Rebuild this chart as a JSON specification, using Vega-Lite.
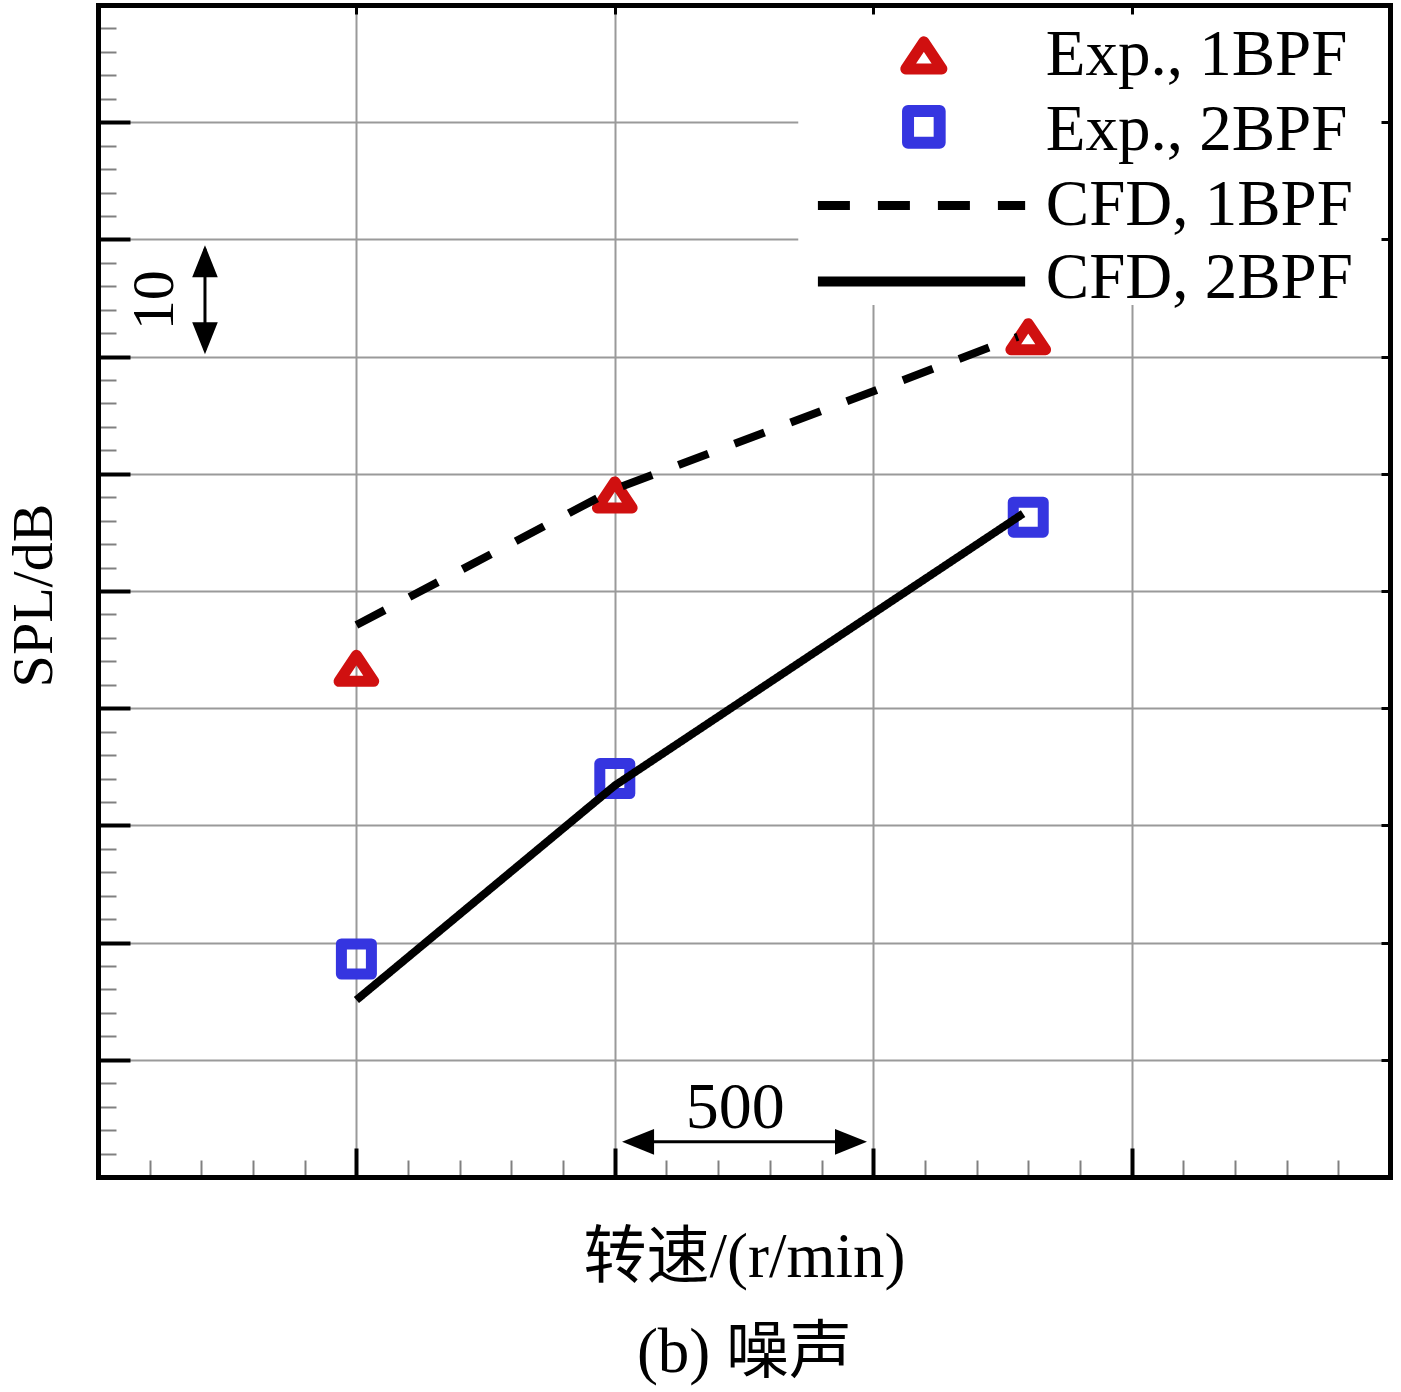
{
  "$schema": "https://vega.github.io/schema/vega-lite/v6.json",
  "width": 1292,
  "height": 1172,
  "autosize": "none",
  "padding": {"left": 98, "top": 5, "right": 11, "bottom": 215},
  "background": "white",
  "datasets": {
    "exp": [
      {"speed": 500, "spl": 43.4, "series": "Exp., 1BPF"},
      {"speed": 1000, "spl": 58.2, "series": "Exp., 1BPF"},
      {"speed": 1800, "spl": 71.7, "series": "Exp., 1BPF"},
      {"speed": 500, "spl": 18.6, "series": "Exp., 2BPF"},
      {"speed": 1000, "spl": 34.0, "series": "Exp., 2BPF"},
      {"speed": 1800, "spl": 56.3, "series": "Exp., 2BPF"}
    ],
    "cfd": [
      {"speed": 500, "spl": 47.1, "series": "CFD, 1BPF"},
      {"speed": 1000, "spl": 58.7, "series": "CFD, 1BPF"},
      {"speed": 1780, "spl": 71.7, "series": "CFD, 1BPF"},
      {"speed": 500, "spl": 15.1, "series": "CFD, 2BPF"},
      {"speed": 1000, "spl": 33.4, "series": "CFD, 2BPF"},
      {"speed": 1790, "spl": 56.6, "series": "CFD, 2BPF"}
    ],
    "note": [{}]
  },
  "resolve": {"axis": {"x": "independent", "y": "independent"}},
  "layer": [
    {
      "data": {"name": "exp"},
      "mark": {"type": "point", "filled": false, "strokeWidth": 11, "strokeJoin": "round", "opacity": 1},
      "encoding": {
        "x": {
          "field": "speed", "type": "quantitative",
          "scale": {"domain": [0, 2500], "nice": false, "zero": false},
          "axis": {
            "orient": "bottom", "values": [100, 200, 300, 400, 600, 700, 800, 900, 1100, 1200, 1300, 1400, 1600, 1700, 1800, 1900, 2100, 2200, 2300, 2400],
            "grid": false, "domain": false, "labels": false, "title": null,
            "ticks": true, "tickSize": -17, "tickWidth": 2, "tickColor": "#808080", "zindex": 0
          }
        },
        "y": {
          "field": "spl", "type": "quantitative",
          "scale": {"domain": [0, 100], "nice": false, "zero": false},
          "axis": {
            "orient": "left", "values": [2, 4, 6, 8, 12, 14, 16, 18, 22, 24, 26, 28, 32, 34, 36, 38, 42, 44, 46, 48, 52, 54, 56, 58, 62, 64, 66, 68, 72, 74, 76, 78, 82, 84, 86, 88, 92, 94, 96, 98],
            "grid": false, "domain": false, "labels": false, "title": null,
            "ticks": true, "tickSize": -18, "tickWidth": 2, "tickColor": "#808080", "zindex": 0
          }
        },
        "shape": {"field": "series", "scale": {"domain": ["Exp., 1BPF", "Exp., 2BPF"], "range": ["M0,-0.75L-1,0.75L1,0.75Z", "square"]}, "legend": null},
        "color": {"field": "series", "scale": {"domain": ["Exp., 1BPF", "Exp., 2BPF"], "range": ["#d01010", "#3535e0"]}, "legend": null},
        "size": {"field": "series", "scale": {"domain": ["Exp., 1BPF", "Exp., 2BPF"], "range": [1200, 900]}, "legend": null}
      }
    },
    {
      "data": {"name": "cfd"},
      "mark": {"type": "line", "color": "black", "strokeWidth": 8, "strokeCap": "butt"},
      "encoding": {
        "x": {
          "field": "speed", "type": "quantitative",
          "axis": {
            "orient": "bottom", "values": [500, 1000, 1500, 2000],
            "grid": true, "gridColor": "#9a9a9a", "gridWidth": 2,
            "domain": true, "domainColor": "black", "domainWidth": 5, "domainCap": "square",
            "ticks": true, "tickSize": -29, "tickWidth": 4, "tickColor": "black",
            "labels": false,
            "title": ["转速/(r/min)", "(b) 噪声"],
            "titleFont": "Liberation Serif, Noto Sans CJK SC", "titleFontSize": 63, "titleFontWeight": "normal",
            "titleColor": "black", "titlePadding": 47, "titleLineHeight": 95, "zindex": 0
          }
        },
        "y": {
          "field": "spl", "type": "quantitative",
          "axis": {
            "orient": "left", "values": [10, 20, 30, 40, 50, 60, 70, 80, 90],
            "grid": true, "gridColor": "#9a9a9a", "gridWidth": 2,
            "domain": true, "domainColor": "black", "domainWidth": 5, "domainCap": "square",
            "ticks": true, "tickSize": -32, "tickWidth": 4, "tickColor": "black",
            "labels": false,
            "title": "SPL/dB",
            "titleFont": "Liberation Serif", "titleFontSize": 58, "titleFontWeight": "normal",
            "titleColor": "black", "titlePadding": 33, "titleY": 590, "zindex": 0
          }
        },
        "strokeDash": {"field": "series", "scale": {"domain": ["CFD, 1BPF", "CFD, 2BPF"], "range": [[32, 28], [1, 0]]}, "legend": null}
      }
    },
    {
      "data": {"name": "note"},
      "mark": {"type": "rect", "fill": "white"},
      "encoding": {
        "x": {"datum": 1355, "type": "quantitative", "axis": {
          "orient": "top", "values": [500, 1000, 1500, 2000],
          "grid": false, "domain": true, "domainColor": "black", "domainWidth": 5, "domainCap": "square",
          "ticks": true, "tickSize": -9, "tickWidth": 3, "tickColor": "black",
          "labels": false, "title": null, "zindex": 1
        }},
        "x2": {"datum": 2500},
        "y": {"datum": 74.4, "type": "quantitative", "axis": {
          "orient": "right", "values": [10, 20, 30, 40, 50, 60, 70, 80, 90],
          "grid": false, "domain": true, "domainColor": "black", "domainWidth": 5, "domainCap": "square",
          "ticks": true, "tickSize": -9, "tickWidth": 3, "tickColor": "black",
          "labels": false, "title": null, "zindex": 1
        }},
        "y2": {"datum": 100}
      }
    },
    {
      "data": {"name": "note"},
      "mark": {"type": "point", "filled": false, "opacity": 1, "strokeWidth": 11, "strokeJoin": "round", "color": "#d01010", "shape": "M0,-0.75L-1,0.75L1,0.75Z", "size": 1300},
      "encoding": {
        "x": {"datum": 1598, "type": "quantitative", "axis": null},
        "y": {"datum": 95.7, "type": "quantitative", "axis": null}
      }
    },
    {
      "data": {"name": "note"},
      "mark": {"type": "point", "filled": false, "opacity": 1, "strokeWidth": 12, "strokeJoin": "round", "color": "#3535e0", "shape": "square", "size": 1000},
      "encoding": {
        "x": {"datum": 1598, "type": "quantitative", "axis": null},
        "y": {"datum": 89.6, "type": "quantitative", "axis": null}
      }
    },
    {
      "data": {"name": "note"},
      "mark": {"type": "rule", "color": "black", "strokeWidth": 9, "strokeDash": [32, 28], "strokeCap": "butt"},
      "encoding": {
        "x": {"datum": 1393, "type": "quantitative", "axis": null},
        "x2": {"datum": 1794},
        "y": {"datum": 82.9, "type": "quantitative", "axis": null}
      }
    },
    {
      "data": {"name": "note"},
      "mark": {"type": "rule", "color": "black", "strokeWidth": 10, "strokeCap": "butt"},
      "encoding": {
        "x": {"datum": 1393, "type": "quantitative", "axis": null},
        "x2": {"datum": 1794},
        "y": {"datum": 76.4, "type": "quantitative", "axis": null}
      }
    },
    {
      "data": {"name": "note"},
      "mark": {"type": "text", "text": "Exp., 1BPF", "font": "Liberation Serif", "fontSize": 65, "align": "left", "baseline": "alphabetic", "color": "black"},
      "encoding": {
        "x": {"datum": 1834, "type": "quantitative", "axis": null},
        "y": {"datum": 94.0, "type": "quantitative", "axis": null}
      }
    },
    {
      "data": {"name": "note"},
      "mark": {"type": "text", "text": "Exp., 2BPF", "font": "Liberation Serif", "fontSize": 65, "align": "left", "baseline": "alphabetic", "color": "black"},
      "encoding": {
        "x": {"datum": 1834, "type": "quantitative", "axis": null},
        "y": {"datum": 87.6, "type": "quantitative", "axis": null}
      }
    },
    {
      "data": {"name": "note"},
      "mark": {"type": "text", "text": "CFD, 1BPF", "font": "Liberation Serif", "fontSize": 65, "align": "left", "baseline": "alphabetic", "color": "black"},
      "encoding": {
        "x": {"datum": 1834, "type": "quantitative", "axis": null},
        "y": {"datum": 81.2, "type": "quantitative", "axis": null}
      }
    },
    {
      "data": {"name": "note"},
      "mark": {"type": "text", "text": "CFD, 2BPF", "font": "Liberation Serif", "fontSize": 65, "align": "left", "baseline": "alphabetic", "color": "black"},
      "encoding": {
        "x": {"datum": 1834, "type": "quantitative", "axis": null},
        "y": {"datum": 75.0, "type": "quantitative", "axis": null}
      }
    },
    {
      "data": {"name": "note"},
      "mark": {"type": "rule", "color": "black", "strokeWidth": 3},
      "encoding": {
        "x": {"datum": 207, "type": "quantitative", "axis": null},
        "y": {"datum": 70.6, "type": "quantitative", "axis": null},
        "y2": {"datum": 79.2}
      }
    },
    {
      "data": {"name": "note"},
      "mark": {"type": "point", "filled": true, "color": "black", "opacity": 1, "shape": "M0,0L-0.4,1L0.4,1Z", "size": 4096},
      "encoding": {
        "x": {"datum": 207, "type": "quantitative", "axis": null},
        "y": {"datum": 79.5, "type": "quantitative", "axis": null}
      }
    },
    {
      "data": {"name": "note"},
      "mark": {"type": "point", "filled": true, "color": "black", "opacity": 1, "shape": "M0,0L-0.4,-1L0.4,-1Z", "size": 4096},
      "encoding": {
        "x": {"datum": 207, "type": "quantitative", "axis": null},
        "y": {"datum": 70.2, "type": "quantitative", "axis": null}
      }
    },
    {
      "data": {"name": "note"},
      "mark": {"type": "text", "text": "10", "font": "Liberation Serif", "fontSize": 60, "angle": 270, "align": "center", "baseline": "middle", "color": "black"},
      "encoding": {
        "x": {"datum": 110, "type": "quantitative", "axis": null},
        "y": {"datum": 74.8, "type": "quantitative", "axis": null}
      }
    },
    {
      "data": {"name": "note"},
      "mark": {"type": "rule", "color": "black", "strokeWidth": 3},
      "encoding": {
        "x": {"datum": 1030, "type": "quantitative", "axis": null},
        "x2": {"datum": 1470},
        "y": {"datum": 3.0, "type": "quantitative", "axis": null}
      }
    },
    {
      "data": {"name": "note"},
      "mark": {"type": "point", "filled": true, "color": "black", "opacity": 1, "shape": "M0,0L1,-0.4L1,0.4Z", "size": 4096},
      "encoding": {
        "x": {"datum": 1014, "type": "quantitative", "axis": null},
        "y": {"datum": 3.0, "type": "quantitative", "axis": null}
      }
    },
    {
      "data": {"name": "note"},
      "mark": {"type": "point", "filled": true, "color": "black", "opacity": 1, "shape": "M0,0L-1,-0.4L-1,0.4Z", "size": 4096},
      "encoding": {
        "x": {"datum": 1488, "type": "quantitative", "axis": null},
        "y": {"datum": 3.0, "type": "quantitative", "axis": null}
      }
    },
    {
      "data": {"name": "note"},
      "mark": {"type": "text", "text": "500", "font": "Liberation Serif", "fontSize": 66, "align": "center", "baseline": "alphabetic", "color": "black"},
      "encoding": {
        "x": {"datum": 1233, "type": "quantitative", "axis": null},
        "y": {"datum": 4.18, "type": "quantitative", "axis": null}
      }
    }
  ],
  "config": {
    "view": {"stroke": null}
  }
}
